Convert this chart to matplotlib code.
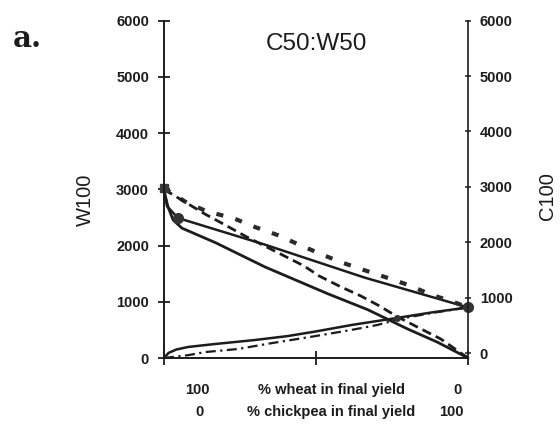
import matplotlib
matplotlib.use("Agg")
import matplotlib.pyplot as plt

# % chickpea in final yield (0 = pure wheat, 100 = pure chickpea)
# Wheat-side curves (left axis, kg/ha)
x_solid_hi = [0, 1.0, 4.6, 33, 66, 100]
y_solid_hi = [2980, 2700, 2490, 2020, 1430, 900]

x_solid_lo = [0, 1.3, 3, 5.9, 17, 33.2, 54, 67, 80, 90, 100]
y_solid_lo = [2980, 2690, 2455, 2310, 2050, 1620, 1140, 860, 520, 280, 0]

x_dotted = [0, 7.6, 14.5, 22.7, 29.9, 37.2, 44.7, 50.7, 57.9, 65.5, 72.7, 80.3, 88.2, 95.1, 100]
y_dotted = [3020, 2760, 2600, 2490, 2330, 2190, 2010, 1870, 1710, 1570, 1440, 1300, 1120, 1000, 900]

x_dashed = [0, 13.5, 20, 27, 46, 51, 58, 64.5, 70.4, 76.6, 83, 91, 100]
y_dashed = [3000, 2560, 2370, 2160, 1640, 1460, 1270, 1110, 940, 740, 560, 340, 0]

# Chickpea-side curves
x_rise_solid = [0, 1.5, 4, 7.9, 16.8, 29.9, 40.8, 49.7, 62, 76.6, 88, 100]
y_rise_solid = [0, 90, 150, 196, 249, 320, 391, 470, 590, 712, 810, 900]

x_rise_dashdot = [0, 7.9, 13.5, 24.3, 35.5, 48.7, 61.2, 70, 78, 88, 100]
y_rise_dashdot = [0, 50, 105, 160, 265, 380, 495, 585, 700, 800, 900]

# Marked points
sq_x, sq_y = [0], [3020]
circ_x, circ_y = [4.6, 100], [2490, 900]
small_x, small_y = [76.6], [712]

yticks = [0, 1000, 2000, 3000, 4000, 5000, 6000]
xticks = [0, 50, 100]

ink = "#1c1c1c"
W, H = 560, 425
fig = plt.figure(figsize=(W / 100, H / 100), dpi=100)
fig.patch.set_facecolor("white")

ax = fig.add_axes([164 / W, 1 - 358 / H, 304 / W, 337.3 / H])
ax.set_xlim(0, 100)
ax.set_ylim(0, 6000)
ax.patch.set_alpha(0)

for s in ("top", "right"):
    ax.spines[s].set_visible(False)
for s in ("left", "bottom"):
    ax.spines[s].set_linewidth(1.4)
    ax.spines[s].set_color(ink)
ax.spines["left"].set_bounds(0, 6000)

ax.set_yticks(yticks)
ax.set_yticklabels([str(v) for v in yticks])
ax.set_xticks(xticks)
ax.set_xticklabels([])
ax.tick_params(axis="y", direction="inout", length=8.6, width=1.3, color=ink, pad=6.5,
               labelsize=10.5, labelcolor=ink)
ax.tick_params(axis="x", direction="inout", length=10.5, width=1.3, color=ink)
for lab in ax.get_yticklabels():
    lab.set_fontfamily("Liberation Sans")
    lab.set_fontweight("bold")

common = dict(color=ink, clip_on=False, solid_capstyle="round", solid_joinstyle="round")
ax.plot(x_solid_hi, y_solid_hi, lw=1.8, **common)
ax.plot(x_solid_lo, y_solid_lo, lw=2.0, **common)
ax.plot(x_dotted, y_dotted, lw=3.0, color="#2a2a2a", clip_on=False, dashes=(1.7, 3.0),
        dash_capstyle="butt")
ax.plot(x_dashed, y_dashed, lw=2.0, color=ink, clip_on=False, dashes=(3.4, 1.9))
ax.plot(x_rise_solid, y_rise_solid, lw=1.8, **common)
ax.plot(x_rise_dashdot, y_rise_dashdot, lw=1.6, color=ink, clip_on=False,
        dashes=(4.5, 2.0, 1.0, 2.0))

ax.plot(sq_x, sq_y, ls="none", marker="s", ms=6, color="#3a3a3a", clip_on=False)
ax.plot(circ_x, circ_y, ls="none", marker="o", ms=7, color="#333333", clip_on=False)
ax.plot(small_x, small_y, ls="none", marker="o", ms=4, color="#333333", clip_on=False)

# Right-hand axis (C100)
ax2 = ax.twinx()
ax2.set_ylim(-89, 5899)
for s in ("top", "left", "bottom"):
    ax2.spines[s].set_visible(False)
ax2.spines["right"].set_bounds(0, 6000)
ax2.spines["right"].set_linewidth(1.2)
ax2.spines["right"].set_color(ink)
ax2.set_yticks(yticks)
ax2.set_yticklabels([str(v) for v in yticks])
ax2.tick_params(axis="y", direction="inout", length=5, width=1.1, color=ink, pad=6,
                labelsize=10.5, labelcolor=ink)
for lab in ax2.get_yticklabels():
    lab.set_fontfamily("Liberation Sans")
    lab.set_fontweight("bold")

def px(x, y):
    return x / W, 1 - y / H

fig.text(*px(316, 50), "C50:W50", ha="center", va="baseline", fontsize=17.5,
         family="Liberation Sans", color=ink)
fig.text(*px(13, 47), "a.", ha="left", va="baseline", fontsize=21,
         family="DejaVu Serif", fontweight="bold", color=ink)
fig.text(*px(85, 200), "W100", ha="center", va="center", rotation=90, fontsize=14.5,
         family="Liberation Sans", color=ink)
fig.text(*px(547, 196), "C100", ha="center", va="center", rotation=90, fontsize=14.5,
         family="Liberation Sans", color=ink)

lab_kw = dict(va="baseline", fontsize=10.5, family="Liberation Sans", fontweight="bold",
              color=ink)
fig.text(*px(197.5, 394), "100", ha="center", **lab_kw)
fig.text(*px(331, 394), "% wheat in final yield", ha="center", **lab_kw)
fig.text(*px(458, 394), "0", ha="center", **lab_kw)
fig.text(*px(199, 416), "0", ha="center", **lab_kw)
fig.text(*px(331, 416), "% chickpea in final yield", ha="center", **lab_kw)
fig.text(*px(451, 416), "100", ha="center", **lab_kw)

fig.savefig("out.png", dpi=100, facecolor="white")
